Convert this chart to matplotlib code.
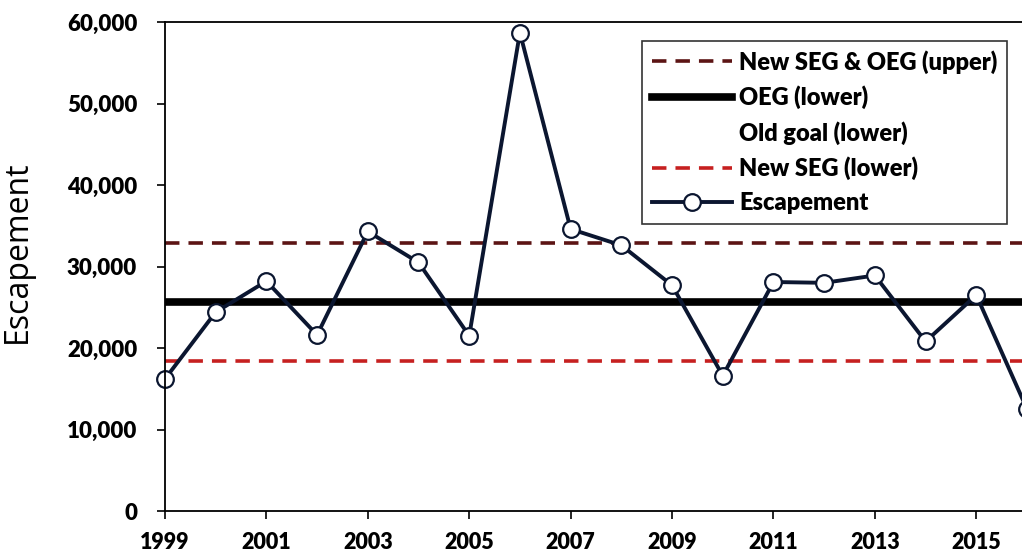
import matplotlib.pyplot as plt
from matplotlib.ticker import FuncFormatter

# escapement by year
years = list(range(1999, 2017))
escapement = [16200, 24400, 28200, 21600, 34300, 30500, 21500, 58700, 34600,
              32600, 27700, 16600, 28100, 28000, 28900, 20800, 26500, 12500]

# goal levels
seg_oeg_upper = 32900
oeg_lower = 25700
new_seg_lower = 18400

plt.rcParams['font.family'] = ['Lato', 'DejaVu Sans']

fig = plt.figure(figsize=(10.22, 5.56), dpi=100)
ax = fig.add_axes([0.1614, 0.0809, 0.8435, 0.8795])

ax.axhline(seg_oeg_upper, color='#5c1414', lw=2.6, ls=(0, (4, 2.5)),
           label='New SEG & OEG (upper)')
ax.axhline(oeg_lower, color='black', lw=5.5, label='OEG (lower)')
ax.plot([], [], color='none', label='Old goal (lower)')
ax.axhline(new_seg_lower, color='#c62020', lw=2.6, ls=(0, (4, 2.5)),
           label='New SEG (lower)')
ax.plot(years, escapement, color='#0b1630', lw=2.8, marker='o', ms=12,
        mfc='white', mec='#0b1630', mew=1.6, label='Escapement', clip_on=False)

ax.set_xlim(1999, 2016)
ax.set_ylim(0, 60000)
ax.set_xticks(range(1999, 2017, 2))
ax.set_yticks(range(0, 60001, 10000))
ax.yaxis.set_major_formatter(FuncFormatter(lambda v, p: f'{int(v):,}'))
ax.tick_params(axis='both', labelsize=16, length=6, width=1.2, colors='black')
for lab in ax.get_xticklabels() + ax.get_yticklabels():
    lab.set_fontweight('heavy')
ax.tick_params(axis='x', pad=9, labelsize=15.5)
ax.tick_params(axis='y', pad=14)

for s in ['left', 'bottom', 'top']:
    ax.spines[s].set_linewidth(1.3)
ax.spines['right'].set_visible(False)

ax.set_ylabel('Escapement', fontsize=23, family=['Open Sans', 'DejaVu Sans'])
ax.yaxis.set_label_coords(-0.152, 0.53)

leg = ax.legend(loc='upper right', bbox_to_anchor=(0.9965, 0.948),
                bbox_transform=fig.transFigure,
                prop={'weight': 'heavy', 'size': 17}, frameon=True,
                fancybox=False, edgecolor='black', handlelength=3.4,
                handletextpad=0.3, labelspacing=0.5, borderpad=0.4)
leg.get_frame().set_linewidth(1.2)

fig.savefig('out.png', dpi=100)
